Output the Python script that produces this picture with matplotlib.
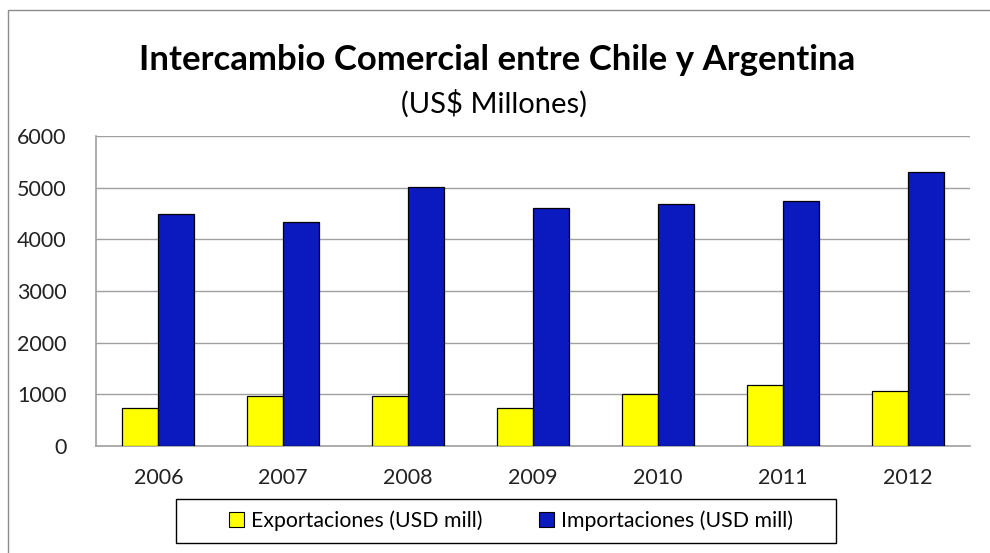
import matplotlib.pyplot as plt
import numpy as np
from matplotlib.patches import Rectangle

plt.rcParams['font.family'] = ['Lato', 'DejaVu Sans']

years = ["2006", "2007", "2008", "2009", "2010", "2011", "2012"]
exportaciones = [730, 975, 975, 730, 1000, 1185, 1070]
importaciones = [4490, 4335, 5020, 4605, 4675, 4750, 5295]

W, H = 990, 553
fig = plt.figure(figsize=(W / 100, H / 100), dpi=100)

# outer chart border (cut off at right/bottom in the screenshot)
fig.patches.append(Rectangle((8 / W, -0.05), 1.1, 1 - 10 / H + 0.05,
                             transform=fig.transFigure, fill=False,
                             edgecolor="#8c8c8c", linewidth=1.0))

ax = fig.add_axes([96 / W, 1 - 446 / H, (970 - 96) / W, (446 - 136) / H])

x = np.arange(len(years))
bw = 0.288
ax.bar(x - bw / 2, exportaciones, bw, color="#FFFF00", edgecolor="black",
       linewidth=0.9, label="Exportaciones (USD mill)", zorder=3)
ax.bar(x + bw / 2, importaciones, bw, color="#0A1ABF", edgecolor="black",
       linewidth=0.9, label="Importaciones (USD mill)", zorder=3)

ax.set_xlim(-0.5, len(years) - 0.5)
ax.set_ylim(0, 6000)
ax.set_yticks(range(0, 6001, 1000))
ax.set_xticks(x)
ax.set_xticklabels(years)
ax.yaxis.grid(True, color="#a0a0a0", linewidth=1.0, zorder=0)
ax.set_axisbelow(True)
ax.tick_params(length=0, labelsize=15.5, colors="#222222")
ax.tick_params(axis="y", pad=21)
ax.tick_params(axis="x", pad=16)
for s in ["top", "right"]:
    ax.spines[s].set_visible(False)
for s in ["left", "bottom"]:
    ax.spines[s].set_color("#a0a0a0")
    ax.spines[s].set_linewidth(1.2)

fig.text(497 / W, 1 - 60 / H, "Intercambio Comercial entre Chile y Argentina",
         ha="center", va="center", fontsize=25, fontweight="bold")
fig.text(494 / W, 1 - 104 / H, "(US$ Millones)", ha="center", va="center",
         fontsize=21)

# legend box drawn separately so its padding matches the original
fig.patches.append(Rectangle((176 / W, 1 - 543 / H), (836 - 176) / W, 44 / H,
                             transform=fig.transFigure, fill=False,
                             edgecolor="black", linewidth=1.0))
leg = fig.legend(loc="center", bbox_to_anchor=(511 / W, 1 - 521 / H), ncol=2,
                 fontsize=15.3, frameon=False, handlelength=0.7,
                 handleheight=0.7, handletextpad=0.3, columnspacing=2.7,
                 borderpad=0, borderaxespad=0)
for h in leg.legend_handles:
    h.set_linewidth(0.8)

fig.savefig("out.png", dpi=100)
